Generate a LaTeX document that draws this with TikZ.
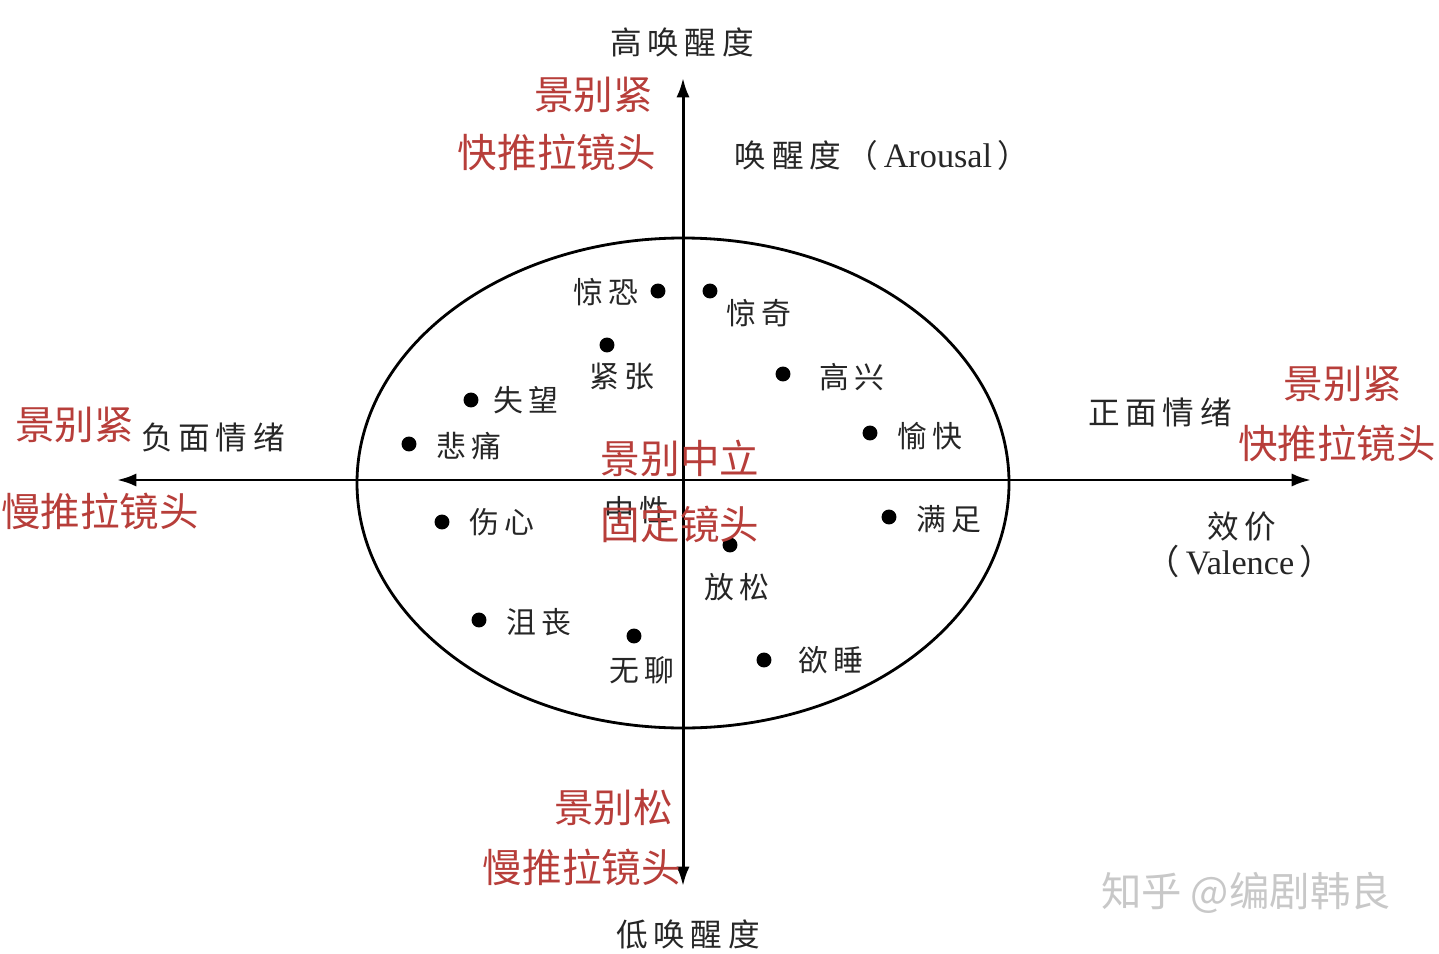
\documentclass[tikz,border=0pt]{standalone}
\usepackage{fontspec}
\setmainfont{Noto Sans CJK SC}
\newfontfamily\cjkw[LetterSpace=18]{Noto Sans CJK SC}
\newfontfamily\latinserif{Liberation Serif}
\usetikzlibrary{arrows.meta, positioning}
\definecolor{shotred}{RGB}{183,62,58}
\definecolor{ink}{RGB}{38,38,38}
\definecolor{wmgray}{RGB}{200,200,200}

\begin{document}
\begin{tikzpicture}[
	x=0.02cm, y=-0.02cm,
	>={Latex[length=11pt,width=7.5pt]},
	axis/.style={<->, line width=1.7pt, black},
	ring/.style={line width=1.6pt, black},
	dot/.style={circle, fill=black, inner sep=0pt, minimum size=8.5pt},
	emo/.style={inner sep=0pt, text=ink, font=\fontsize{17pt}{19pt}\selectfont\cjkw},
	axislab/.style={inner sep=0pt, text=ink, font=\fontsize{18pt}{20pt}\selectfont\cjkw},
	shot/.style={inner sep=0pt, text=shotred, font=\fontsize{22.5pt}{24pt}\selectfont}
	]
	\useasboundingbox (0,0) rectangle (1439,953);
	
	% --------------------------------------------------
	% Axes and the circle
	% --------------------------------------------------
	\coordinate (top)    at (683,78);
	\coordinate (bottom) at (683,886);
	\coordinate (west)   at (117,480);
	\coordinate (east)   at (1311,480);
	
	\draw[ring] (683,483) ellipse [x radius=326, y radius=245];
	\draw[axis] (bottom) -- (top);
	\draw[axis] (west) -- (east);
	
	% --------------------------------------------------
	% Axis labels
	% --------------------------------------------------
	\node[axislab] (high) at (682,42) {高唤醒度};
	\node[axislab] (low)  at (688,934) {低唤醒度};
	\node[axislab] (aro)  at (882,155)
	{唤醒度（\,{\latinserif\fontsize{19.5pt}{20pt}\selectfont Arousal}\,）};
	\node[axislab] (neg)  at (213,437) {负面情绪};
	\node[axislab] (pos)  at (1160,412) {正面情绪};
	\node[axislab] (val)  at (1242,527) {效价};
	\node[inner sep=0pt, text=ink, font=\fontsize{19.5pt}{20pt}\selectfont] (valen) at (1240,561)
	{（\,{\latinserif Valence}\,）};
	
	% --------------------------------------------------
	% Emotions
	% --------------------------------------------------
	\node[dot] (d1)  at (658,291) {};  \node[emo] (l1)  at (606,292) {惊恐};
	\node[dot] (d2)  at (710,291) {};  \node[emo] (l2)  at (759,313) {惊奇};
	\node[dot] (d3)  at (607,345) {};  \node[emo] (l3)  at (622,377) {紧张};
	\node[dot] (d4)  at (783,374) {};  \node[emo] (l4)  at (852,377) {高兴};
	\node[dot] (d5)  at (471,400) {};  \node[emo] (l5)  at (526,400) {失望};
	\node[dot] (d6)  at (409,444) {};  \node[emo] (l6)  at (469,446) {悲痛};
	\node[dot] (d7)  at (870,433) {};  \node[emo] (l7)  at (930,436) {愉快};
	\node[dot] (d8)  at (442,522) {};  \node[emo] (l8)  at (502,522) {伤心};
	\node[dot] (d9)  at (889,517) {};  \node[emo] (l9)  at (949,519) {满足};
	\node[dot] (d10) at (730,545) {};  \node[emo] (l10) at (737,587) {放松};
	\node[dot] (d11) at (479,620) {};  \node[emo] (l11) at (539,622) {沮丧};
	\node[dot] (d12) at (634,636) {};  \node[emo] (l12) at (642,670) {无聊};
	\node[dot] (d13) at (764,660) {};  \node[emo] (l13) at (831,660) {欲睡};
	\node[emo] (mid) at (637,510) {中性};
	
	% --------------------------------------------------
	% Shot sizes and camera moves (red)
	% --------------------------------------------------
	\node[shot, anchor=east] (n1) at (653,95)  {景别紧};
	\node[shot, anchor=east] (n2) at (656,152) {快推拉镜头};
	\node[shot, anchor=west] (w1) at (15,425)  {景别紧};
	\node[shot, anchor=west] (w2) at (1,511)   {慢推拉镜头};
	\node[shot] (e1) at (1343,384) {景别紧};
	\node[shot] (e2) at (1337,443) {快推拉镜头};
	\node[shot] (c1) at (680,458)  {景别中立};
	\node[shot] (c2) at (680,524)  {固定镜头};
	\node[shot, anchor=east] (s1) at (673,808) {景别松};
	\node[shot, anchor=east] (s2) at (681,867) {慢推拉镜头};
	
	% watermark
	\node[inner sep=0pt, text=wmgray, font=\fontsize{23pt}{24pt}\selectfont] (wm) at (1246,893) {知乎 @编剧韩良};
	
\end{tikzpicture}
\end{document}
